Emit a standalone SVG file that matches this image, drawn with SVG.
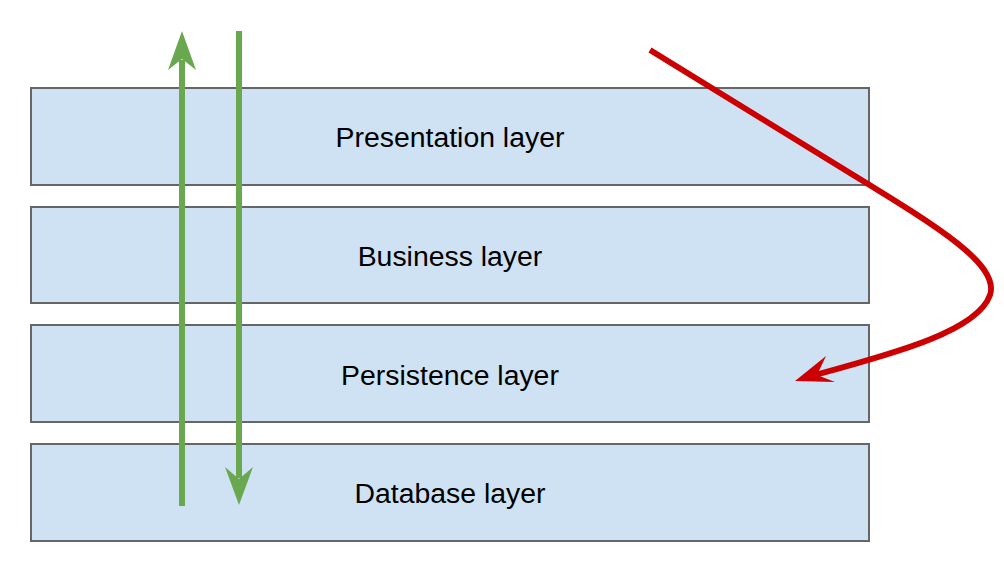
<svg xmlns="http://www.w3.org/2000/svg" width="1004" height="586" viewBox="0 0 1004 586">
<style>
.layer{fill:#cfe2f3;stroke:#666666;stroke-width:2}
.lbl{font-family:"Liberation Sans",Arial,sans-serif;font-size:28.4px;fill:#000;text-anchor:middle}
.g{stroke:#6aa84f;stroke-width:6;fill:none}
.gh{fill:#6aa84f}
</style>
<rect width="1004" height="586" fill="#ffffff"/>
<g id="presentation"><rect class="layer" x="31" y="88" width="838" height="97"/><text class="lbl" x="450" y="147">Presentation layer</text></g>
<g id="business"><rect class="layer" x="31" y="207" width="838" height="96"/><text class="lbl" x="450" y="266">Business layer</text></g>
<g id="persistence"><rect class="layer" x="31" y="325" width="838" height="97"/><text class="lbl" x="450" y="385">Persistence layer</text></g>
<g id="database"><rect class="layer" x="31" y="444" width="838" height="97"/><text class="lbl" x="450" y="503">Database layer</text></g>
<g id="connectors">
<line class="g" x1="182" y1="506" x2="182" y2="60"/>
<polygon class="gh" points="182,31 196,70 182,59 168,70"/>
<line class="g" x1="239" y1="31" x2="239" y2="478"/>
<polygon class="gh" points="239,505 253,467 239,479 225,467"/>
<path d="M650,50 L850,173 C940,228 1000,265 990,295 C978,330 900,352 815,375" fill="none" stroke="#cc0000" stroke-width="5.8"/>
<polygon fill="#cc0000" points="795,381 826,356 817,375 835,382"/>
</g>
</svg>
